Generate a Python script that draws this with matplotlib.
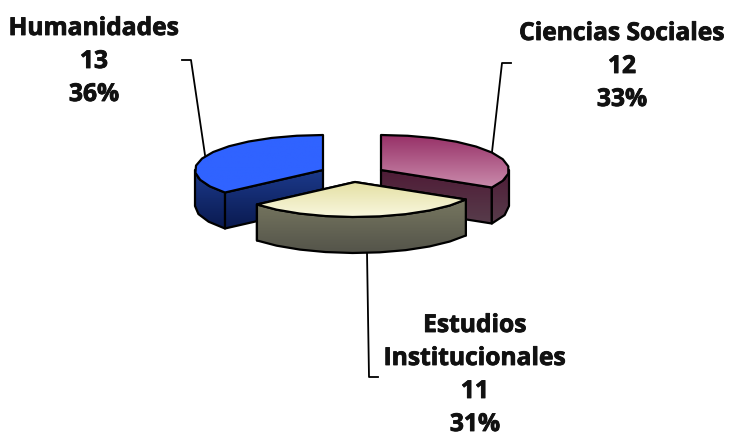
import numpy as np
import matplotlib
matplotlib.use("Agg")
import matplotlib.pyplot as plt
import matplotlib.patheffects as pe
from matplotlib.colors import LinearSegmentedColormap
from matplotlib.patches import Polygon

# ========== DATA ========== #
categories = ["Ciencias Sociales", "Estudios\nInstitucionales", "Humanidades"]
values = [12, 11, 13]
percents = ["33%", "31%", "36%"]

# ========== LAYOUT (pixels) ========== #
centers = [(381, 170), (355, 182), (323, 170)]
rx, ry, depth = 128, 35, 36
top_colors = [("#962f66", "#c98aab"), ("#e4e0a4", "#f9f7de"), ("#3063ff", "#3063ff")]
side_colors = [("#4f1b36", "#573c4b"), ("#777760", "#54544a"), ("#1c3a8c", "#0a1a50")]
label_pos = [(622, 40), (475, 332), (94, 35)]
line_step = 33
leaders = [
    [(511, 63), (502, 63), (492, 152)],
    [(367, 252), (369, 377), (378, 377)],
    [(182, 60), (191, 60), (205, 155)],
]

fig = plt.figure(figsize=(7.32, 4.37), dpi=100)
ax = fig.add_axes([0, 0, 1, 1])


def arc(cx, cy, a0, a1):
    # coarse steps so the rim stays faceted like the original
    n = max(2, int(abs(a1 - a0) / 11) + 1)
    t = np.radians(np.linspace(a0, a1, n))
    return np.column_stack([cx + rx * np.cos(t), cy - ry * np.sin(t)])


def shaded(points, colors):
    cmap = LinearSegmentedColormap.from_list("g", colors)
    grad = np.linspace(0, 1, 128).reshape(-1, 1)
    x0, y0 = points.min(axis=0)
    x1, y1 = points.max(axis=0)
    im = ax.imshow(grad, cmap=cmap, extent=(x0, x1, y1, y0), aspect="auto", zorder=zo[0])
    patch = Polygon(points, closed=True, facecolor="none", edgecolor="black",
                    linewidth=1.6, joinstyle="round", zorder=zo[0] + 0.5)
    ax.add_patch(patch)
    im.set_clip_path(patch)
    zo[0] += 1


# ========== SLICES ========== #
zo = [1]
angles = 90 - np.cumsum([0] + values) / sum(values) * 360
draw_order = [2, 0, 1]  # yellow one sits in front

for i in draw_order:
    cx, cy = centers[i]
    a0, a1 = angles[i], angles[i + 1]

    # inner cut faces, only those turned to the viewer
    for a in (a0, a1):
        if np.sin(np.radians(a)) < 0:
            px = cx + rx * np.cos(np.radians(a))
            py = cy - ry * np.sin(np.radians(a))
            face = np.array([[cx, cy], [px, py], [px, py + depth], [cx, cy + depth]])
            shaded(face, side_colors[i])

    # outer rim, front half only
    lo, hi = sorted((a0, a1))
    rim_lo = max(lo, -180)
    rim_hi = min(hi, 0)
    if i == 2:
        rim_lo, rim_hi = -180, a0
    if rim_hi > rim_lo:
        rim = arc(cx, cy, rim_lo, rim_hi)
        shaded(np.vstack([rim, (rim + [0, depth])[::-1]]), side_colors[i])

    # top surface
    top = np.vstack([[cx, cy], arc(cx, cy, a0, a1)])
    shaded(top, top_colors[i])

# ========== LABELS ========== #
for i, name in enumerate(categories):
    lines = name.split("\n") + [str(values[i]), percents[i]]
    x, y = label_pos[i]
    for k, line in enumerate(lines):
        ax.text(x, y + k * line_step, line, ha="center", va="baseline",
                fontsize=17.7, fontweight="bold", family="Open Sans", color="#111111",
                zorder=20, path_effects=[pe.withStroke(linewidth=0.6, foreground="#111111")])
    xs, ys = zip(*leaders[i])
    ax.plot(xs, ys, color="black", linewidth=1.3, zorder=0.5)

ax.set_xlim(0, 732)
ax.set_ylim(437, 0)
ax.axis("off")
fig.savefig("out.png", dpi=100, facecolor="white")
